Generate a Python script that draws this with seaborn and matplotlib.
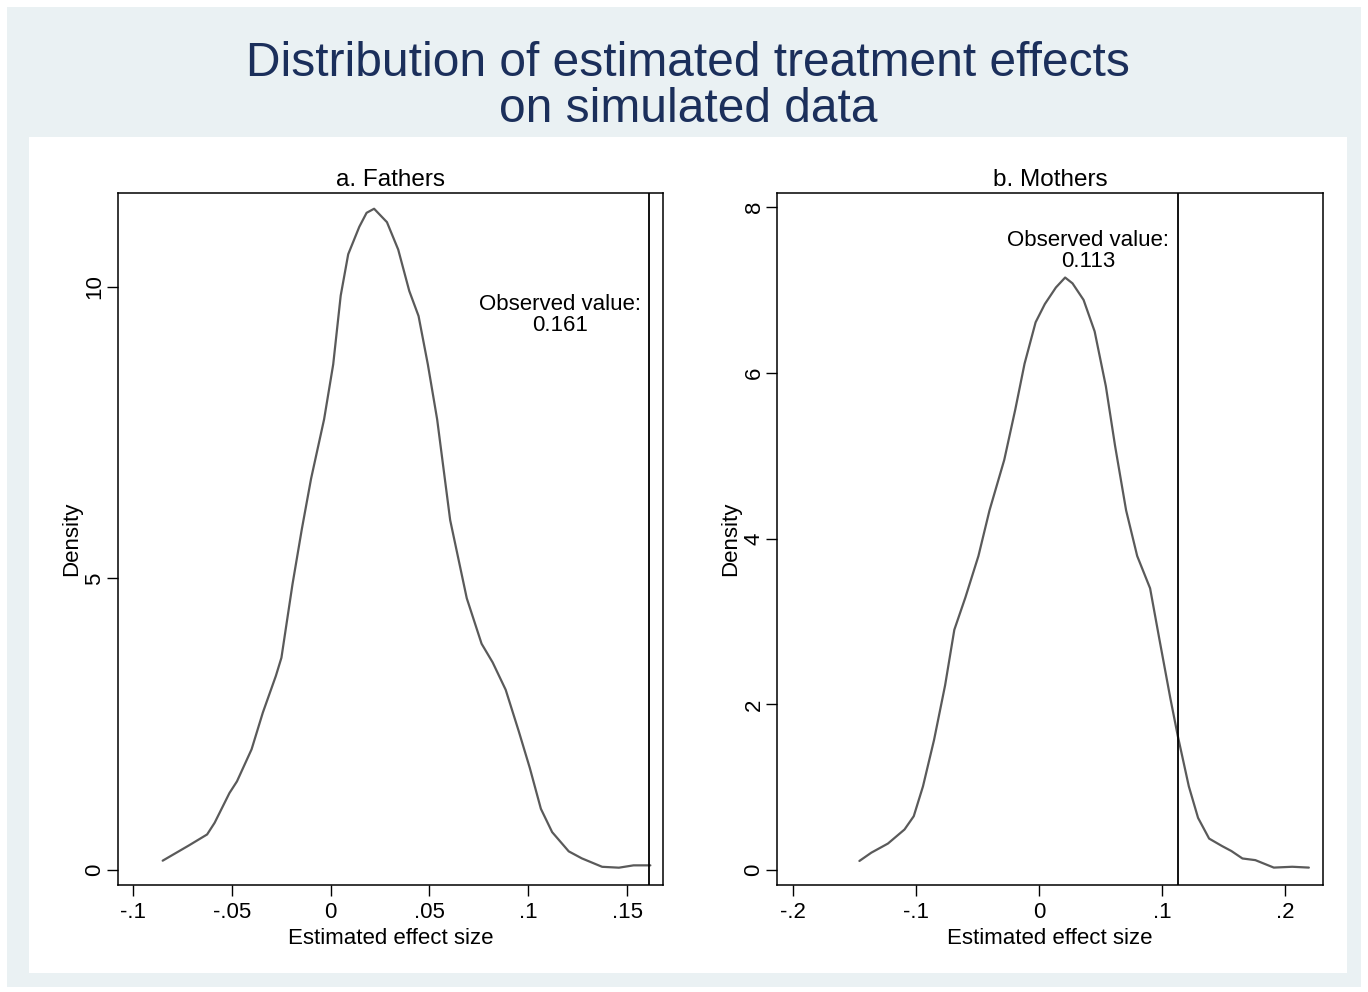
import numpy as np
import pandas as pd
import matplotlib.pyplot as plt
import matplotlib.patches as mpatches
import seaborn as sns

# ── data ────────────────────────────────────────────────────
fathers_x = [-0.085, -0.0718, -0.0625, -0.0587, -0.0512, -0.0474, -0.040, -0.0343,
             -0.0277, -0.0249, -0.0193, -0.0146, -0.0099, -0.0033, 0.0013, 0.0051,
             0.0089, 0.0145, 0.0182, 0.022, 0.0285, 0.0342, 0.0398, 0.0445, 0.0492,
             0.0539, 0.0605, 0.0689, 0.0764, 0.0820, 0.0886, 0.0952, 0.1008, 0.1064,
             0.1121, 0.1205, 0.1271, 0.1374, 0.1459, 0.1533, 0.1618]
fathers_y = [0.16, 0.42, 0.61, 0.81, 1.32, 1.52, 2.07, 2.70, 3.33, 3.64, 4.90, 5.84,
             6.71, 7.73, 8.67, 9.85, 10.56, 11.03, 11.27, 11.34, 11.11, 10.64, 9.93,
             9.50, 8.67, 7.73, 6.00, 4.66, 3.88, 3.56, 3.09, 2.38, 1.75, 1.05, 0.65,
             0.32, 0.20, 0.055, 0.04, 0.08, 0.08]

mothers_x = [-0.146, -0.1363, -0.1228, -0.1093, -0.1018, -0.0943, -0.0853, -0.0763,
             -0.0688, -0.0598, -0.0492, -0.0402, -0.0282, -0.0192, -0.0117, -0.0027,
             0.0048, 0.0138, 0.0213, 0.0273, 0.0363, 0.0453, 0.0544, 0.0619, 0.0709,
             0.0799, 0.0904, 0.0979, 0.1069, 0.1129, 0.1219, 0.1294, 0.1384, 0.1489,
             0.1565, 0.1655, 0.1760, 0.1910, 0.2060, 0.2195]
mothers_y = [0.11, 0.21, 0.32, 0.49, 0.65, 1.01, 1.57, 2.23, 2.90, 3.29, 3.79, 4.34,
             4.95, 5.56, 6.11, 6.61, 6.83, 7.03, 7.15, 7.08, 6.88, 6.50, 5.84, 5.12,
             4.34, 3.79, 3.40, 2.79, 2.07, 1.62, 1.01, 0.63, 0.38, 0.29, 0.23, 0.14,
             0.12, 0.03, 0.04, 0.03]

observed = [0.161, 0.113]
panel_titles = ["a. Fathers", "b. Mothers"]

fathers_xticks = [-0.1, -0.05, 0, 0.05, 0.1, 0.15]
fathers_xlabels = ["-.1", "-.05", "0", ".05", ".1", ".15"]
fathers_yticks = [0, 5, 10]
mothers_xticks = [-0.2, -0.1, 0, 0.1, 0.2]
mothers_xlabels = ["-.2", "-.1", "0", ".1", ".2"]
mothers_yticks = [0, 2, 4, 6, 8]

# ── style ────────────────────────────────────────────────────
sns.set_style("white")
plt.rcParams["font.family"] = ["Liberation Sans", "DejaVu Sans"]
plt.rcParams["text.color"] = "black"

W, H = 1368, 992
fig = plt.figure(figsize=(W / 100, H / 100), dpi=100, facecolor="white")

# Stata-like background panels
fig.patches.append(mpatches.Rectangle((7 / W, 1 - 987 / H), (1361 - 7) / W, (987 - 7) / H,
                                      transform=fig.transFigure, facecolor="#EAF1F3",
                                      edgecolor="none", zorder=-2))
fig.patches.append(mpatches.Rectangle((29 / W, 1 - 973 / H), (1347 - 29) / W, (973 - 137) / H,
                                      transform=fig.transFigure, facecolor="white",
                                      edgecolor="none", zorder=-1))

fig.text(0.503, 1 - 63 / H, "Distribution of estimated treatment effects",
         ha="center", va="center", fontsize=34.5, color="#1B2F5B")
fig.text(0.503, 1 - 110 / H, "on simulated data",
         ha="center", va="center", fontsize=34.5, color="#1B2F5B")

ax1 = fig.add_axes([118 / W, 1 - 885 / H, (663 - 118) / W, (885 - 193) / H])
ax2 = fig.add_axes([777 / W, 1 - 885 / H, (1323 - 777) / W, (885 - 193) / H])

panels = [
    (ax1, fathers_x, fathers_y, observed[0], fathers_xticks, fathers_xlabels,
     fathers_yticks, (-0.1076, 0.1682), (-0.257, 11.61), (0.116, 9.88)),
    (ax2, mothers_x, mothers_y, observed[1], mothers_xticks, mothers_xlabels,
     mothers_yticks, (-0.213, 0.231), (-0.18, 8.17), (0.0398, 7.72)),
]

for i, (ax, xs, ys, obs, xt, xl, yt, xlim, ylim, txt) in enumerate(panels):
    df = pd.DataFrame({"x": xs, "y": ys})
    sns.lineplot(data=df, x="x", y="y", ax=ax, color="#5A5A5A", linewidth=1.6,
                 sort=False)
    ax.axvline(obs, color="black", linewidth=1.3)
    ax.text(txt[0], txt[1], f"Observed value:\n{obs:.3f}", ha="center", va="top",
            fontsize=16, linespacing=1.0, color="black")
    ax.set_xlim(*xlim)
    ax.set_ylim(*ylim)
    ax.set_xticks(xt)
    ax.set_xticklabels(xl)
    ax.set_yticks(yt)
    ax.set_yticklabels([str(v) for v in yt], rotation=90, va="center")
    ax.tick_params(axis="x", which="major", direction="out", length=8, width=1,
                   labelsize=16, colors="black", bottom=True, pad=4)
    ax.tick_params(axis="y", which="major", direction="out", length=8, width=1,
                   labelsize=16, colors="black", left=True, pad=1)
    ax.set_xlabel("Estimated effect size", fontsize=16, labelpad=4, color="black")
    ax.set_ylabel("Density", fontsize=16, labelpad=2, color="black")
    ax.set_title(panel_titles[i], fontsize=17.5, pad=5, color="black")
    for s in ax.spines.values():
        s.set_visible(True)
        s.set_color("black")
        s.set_linewidth(1.1)
    ax.set_facecolor("white")

fig.savefig("out.png", dpi=100, facecolor=fig.get_facecolor())
